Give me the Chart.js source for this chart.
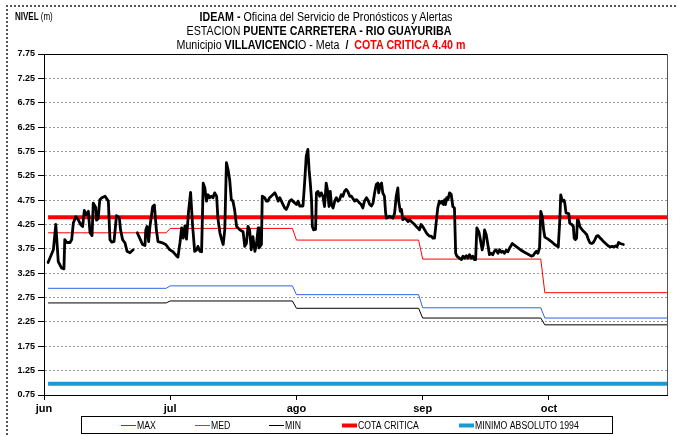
<!DOCTYPE html>
<html>
<head>
<meta charset="utf-8">
<script src="https://cdn.jsdelivr.net/npm/chart.js@4.4.0/dist/chart.umd.min.js"></script>
<style>
  html, body { margin: 0; padding: 0; background: #fff; }
  #wrap { position: relative; width: 678px; height: 436px; overflow: hidden; }
  #c { position: absolute; left: 0; top: 0; }
  .frame { position: absolute; left: 6px; top: 5px; width: 700px; height: 460px;
           border-top: 2px dotted #555; border-left: 2px dotted #555; }
  .t { position: absolute; white-space: nowrap; color: #000;
       font-family: "Liberation Sans Narrow", "Arial Narrow", "Liberation Sans", Arial, sans-serif;
       font-size: 12px; line-height: 14px; transform: translateX(-50%) scaleX(0.89); }
  .t b { font-weight: bold; }
  .red { color: #ff0000; font-weight: bold; }
  .unit { position: absolute; left: 15px; top: 11px; white-space: nowrap;
          font-family: "Liberation Sans Narrow", "Arial Narrow", "Liberation Sans", Arial, sans-serif;
          font-size: 10px; line-height: 12px; transform-origin: 0 50%; transform: scaleX(0.8); }
</style>
</head>
<body>
<div id="wrap">
  <canvas id="c" width="678" height="436"></canvas>
  <div class="frame"></div>
  <div class="unit"><b>NIVEL</b> (m)</div>
  <div class="t" style="left:326px; top:10px;"><b>IDEAM -</b> Oficina del Servicio de Pronósticos y Alertas</div>
  <div class="t" style="left:319px; top:24px;">ESTACION <b>PUENTE CARRETERA - RIO GUAYURIBA</b></div>
  <div class="t" style="left:321px; top:38px;">Municipio <b>VILLAVICENCI</b>O - Meta &nbsp;<b>/</b>&nbsp; <span class="red">COTA CRITICA 4.40 m</span></div>
</div>
<script>
// Month ticks on the day axis (day 0 = 1 June)
const monthTickDays = [-1, 30, 61, 92, 123];
const monthLabels = ['jun', 'jul', 'ago', 'sep', 'oct'];
const levelTicks = [0.75, 1.25, 1.75, 2.25, 2.75, 3.25, 3.75, 4.25, 4.75, 5.25, 5.75, 6.25, 6.75, 7.25, 7.75];

// Monthly reference levels (m)
const monthFirstDay = [0, 30, 61, 92, 122];
const monthLastDay = [29, 60, 91, 121, 152];
const maxByMonth = [4.08, 4.17, 3.93, 3.54, 2.85];
const medByMonth = [2.94, 2.99, 2.81, 2.54, 2.33];
const minByMonth = [2.64, 2.68, 2.53, 2.33, 2.19];
const cotaCritica = 4.40;
const minimoAbsoluto1994 = 0.98;
const seriesSpan = [0, 152];

// Observed water level readings (day, m); null marks missing readings
const obsDay = [
  0, 1.3, 1.9, 2.5, 3.3, 3.9, 4.1, 4.6, 5.4, 5.8, 6.2, 6.8, 7.4, 8.0, 8.5, 8.9, 9.3, 9.9, 10.3, 10.8,
  11.1, 11.7, 11.9, 12.3, 12.7, 13.2, 14.0, 14.8, 15.2, 15.6, 16.2, 16.8, 17.5, 17.8, 18.3, 18.9, 19.4, 20.1, 20.9, 21.4,
  21.9, 22.5, 23.2, 23.8, 24.0, 24.3, 24.7, 25.0, 25.7, 26.1, 26.6, 27.0, 27.9, 28.4, 28.9, 29.9, 30.7, 31.5, 31.9, 32.4,
  32.8, 33.2, 33.6, 34.0, 34.5, 35.0, 35.5, 36.0, 36.5, 36.8, 37.3, 37.7, 38.1, 38.5, 38.9, 39.3, 39.7, 40.1, 40.5, 40.9,
  41.4, 41.7, 42.2, 42.6, 43.0, 43.4, 43.8, 44.2, 44.6, 45.0, 45.4, 45.8, 46.3, 47.1, 47.9, 48.3, 48.7, 49.1, 49.5, 49.9,
  50.3, 50.8, 51.2, 51.6, 51.8, 52.4, 52.6, 53.2, 53.6, 54.0, 54.4, 54.8, 55.7, 56.1, 56.5, 56.9, 57.3, 58.1, 58.5, 58.9,
  59.3, 59.8, 60.1, 60.6, 61.0, 61.4, 61.8, 62.6, 63.0, 63.4, 63.8, 64.1, 64.4, 64.7, 64.9, 65.2, 65.7, 65.9, 66.3, 66.7,
  67.1, 67.5, 67.9, 68.3, 68.6, 69.0, 69.3, 69.6, 70.0, 70.4, 70.8, 71.2, 71.6, 72.0, 72.4, 72.8, 73.2, 73.6, 74.1, 74.5,
  74.9, 75.3, 75.7, 76.1, 76.5, 76.9, 77.3, 77.7, 78.2, 78.5, 79.0, 79.4, 79.8, 80.2, 80.6, 81.0, 81.2, 81.6, 81.9, 82.2,
  82.6, 82.9, 83.1, 83.5, 83.9, 84.3, 84.7, 85.1, 85.5, 85.9, 86.1, 86.5, 86.8, 87.1, 87.5, 88.0, 88.4, 88.8, 89.2, 89.6,
  90.0, 90.4, 90.8, 91.2, 91.6, 92.0, 92.5, 92.9, 93.3, 93.7, 94.1, 94.5, 94.9, 95.3, 95.7, 96.1, 96.5, 96.8, 97.1, 97.4,
  97.6, 97.9, 98.2, 98.6, 99.0, 99.4, 99.8, 100.1, 100.4, 101.0, 101.5, 101.9, 102.3, 102.7, 103.1, 103.5, 103.9, 104.3, 104.7, 105.0,
  105.3, 105.8, 106.1, 106.6, 106.9, 107.2, 107.6, 108.0, 108.4, 108.8, 109.2, 109.6, 110.0, 110.5, 110.9, 111.3, 111.7, 112.1, 112.5, 112.9,
  113.3, 114.0, 114.6, 115.4, 116.2, 117.0, 117.9, 118.7, 119.1, 119.5, 119.9, 120.3, 120.7, 121.0, 121.4, 121.7, 122.0, 122.8, 123.6, 124.4,
  125.3, 125.7, 125.9, 126.3, 126.7, 126.9, 127.2, 127.6, 127.9, 128.1, 128.6, 129.0, 129.2, 129.5, 129.8, 130.0, 130.2, 130.6, 131.0, 131.5,
  131.9, 132.3, 132.7, 133.1, 133.5, 133.9, 134.3, 134.7, 135.1, 135.6, 136.0, 136.4, 136.8, 137.2, 137.6, 138.0, 138.5, 138.8, 139.3, 139.7,
  140.1, 140.5, 140.9, 141.3
];
const obsLevel = [
  3.47, 3.73, 4.25, 3.49, 3.36, 3.34, 3.94, 3.88, 3.88, 3.94, 4.28, 4.41, 4.35, 4.25, 4.21, 4.54, 4.45, 4.52, 4.08, 4.02,
  4.69, 4.60, 4.34, 4.37, 4.76, 4.80, 4.83, 4.73, 3.94, 3.89, 3.90, 4.43, 4.39, 4.14, 3.94, 3.87, 3.70, 3.67, 3.73, null,
  4.08, 3.97, 3.84, 3.82, 4.14, 4.21, 3.90, 4.20, 4.62, 4.65, 4.14, 3.90, 3.88, 3.86, 3.84, 3.73, 3.69, 3.61, 3.58, 3.88,
  4.18, 3.97, 4.22, 3.95, 4.52, 4.91, 4.22, 3.70, 3.73, 3.80, 3.70, 3.69, 5.10, 5.00, 4.73, 4.86, 4.80, 4.83, 4.80, 4.90,
  4.83, 4.38, 4.08, 3.95, 3.84, 4.14, 5.52, 5.38, 5.17, 4.76, 4.73, 4.56, 4.21, 4.14, 4.10, 3.80, 3.86, 4.21, 4.14, 3.73,
  4.00, 3.70, 3.86, 4.18, 3.77, 3.84, 4.83, 4.80, 4.73, 4.73, 4.80, 4.83, 4.90, 4.83, 4.73, 4.80, 4.73, 4.59, 4.56, 4.63,
  4.73, 4.76, 4.73, 4.69, 4.66, 4.73, 4.63, 4.63, 5.10, 5.65, 5.79, 5.38, 5.10, 4.76, 4.21, 4.14, 4.15, 4.90, 4.93, 4.83,
  4.90, 4.83, 4.62, 5.10, 4.97, 4.62, 4.93, 4.66, 4.59, 4.73, 4.80, 4.73, 4.76, 4.86, 4.83, 4.93, 4.97, 4.93, 4.83, 4.83,
  4.78, 4.73, 4.76, 4.73, 4.69, 4.66, 4.59, 4.73, 4.80, 4.76, 4.66, 4.63, 4.69, 4.90, 5.07, 5.10, 4.90, 5.07, 5.10, 4.90,
  4.83, 4.49, 4.38, 4.40, 4.42, 4.40, 4.38, 4.48, 4.83, 5.00, 4.73, 4.52, 4.56, 4.35, 4.38, 4.35, 4.31, 4.35, 4.31, 4.28,
  4.25, 4.21, 4.18, 4.14, 4.25, 4.21, 4.14, 4.08, 4.04, 4.01, 4.01, 3.97, 3.97, 4.28, 4.59, 4.73, 4.69, 4.73, 4.66, 4.76,
  4.66, 4.80, 4.76, 4.90, 4.87, 4.62, 4.59, 3.66, 3.60, 3.56, 3.53, 3.60, 3.56, 3.61, 3.56, 3.63, 3.56, 3.60, 3.53, 3.53,
  4.18, 4.10, 3.97, 3.73, 3.84, 4.14, 4.04, 3.84, 3.63, 3.66, 3.63, 3.70, 3.73, 3.66, 3.73, 3.68, 3.70, 3.66, 3.72, 3.69,
  3.76, 3.86, 3.82, 3.77, 3.72, 3.68, 3.64, 3.60, 3.61, 3.66, 3.70, 3.66, 3.77, 4.52, 4.40, 4.14, 3.99, 3.95, 3.90, 3.84,
  3.79, 4.38, 4.86, 4.73, 4.75, 4.69, 4.49, 4.48, 4.47, 4.28, 4.25, 4.21, 3.97, 3.94, 3.97, 4.35, 4.34, 4.21, 4.16, 4.11,
  4.08, 4.04, 3.94, 3.87, 3.86, 3.88, 3.94, 4.01, 4.02, 3.97, 3.94, 3.90, 3.87, 3.84, 3.81, 3.79, 3.80, 3.79, 3.81, 3.79,
  3.88, 3.86, 3.85, 3.84
];

const FONT = "'Liberation Sans', Arial, sans-serif";
const NARROW = "'Liberation Sans Narrow', 'Arial Narrow', 'Liberation Sans', Arial, sans-serif";

function monthSteps(values) {
  const pts = [];
  values.forEach((v, i) => {
    pts.push({ x: monthFirstDay[i], y: v });
    pts.push({ x: monthLastDay[i], y: v });
  });
  return pts;
}
function flat(v) {
  return seriesSpan.map(d => ({ x: d, y: v }));
}
const observed = obsDay.map((d, i) => ({ x: d, y: obsLevel[i] }));

// Plot frame: top and right edges of the plotting area
const framePlugin = {
  id: 'frame',
  beforeDatasetsDraw(chart) {
    const { ctx, chartArea: a } = chart;
    ctx.save();
    ctx.lineWidth = 1;
    ctx.strokeStyle = '#000';
    ctx.beginPath();
    ctx.moveTo(a.left, Math.round(a.top) + 0.5);
    ctx.lineTo(a.right, Math.round(a.top) + 0.5);
    ctx.stroke();
    ctx.strokeStyle = '#555';
    ctx.beginPath();
    ctx.moveTo(Math.round(a.right) + 0.5, a.top);
    ctx.lineTo(Math.round(a.right) + 0.5, a.bottom);
    ctx.stroke();
    ctx.restore();
  }
};

// Boxed legend row under the axis
const boxLegendPlugin = {
  id: 'boxLegend',
  afterDraw(chart) {
    const { ctx } = chart;
    const items = chart.data.datasets.filter(ds => !ds.hideInLegend);
    const slots = [121, 195, 269, 342, 459];
    ctx.save();
    ctx.strokeStyle = '#000';
    ctx.lineWidth = 1;
    ctx.strokeRect(81.5, 416.5, 531, 17);
    ctx.font = '10px ' + NARROW;
    ctx.textBaseline = 'middle';
    ctx.fillStyle = '#000';
    items.forEach((ds, i) => {
      const x = slots[i];
      ctx.strokeStyle = ds.borderColor;
      ctx.lineWidth = ds.borderWidth;
      ctx.beginPath();
      ctx.moveTo(x, 425.5);
      ctx.lineTo(x + 15, 425.5);
      ctx.stroke();
      ctx.save();
      ctx.translate(x + 16, 426);
      ctx.scale(0.87, 1);
      ctx.fillText(ds.label, 0, 0);
      ctx.restore();
    });
    ctx.restore();
  }
};

new Chart(document.getElementById('c'), {
  type: 'line',
  data: {
    datasets: [
      { label: 'NIVEL', data: observed, borderColor: '#000', borderWidth: 2.8, order: 0,
        hideInLegend: true, spanGaps: false, borderJoinStyle: 'round', borderCapStyle: 'round' },
      { label: 'MAX', data: monthSteps(maxByMonth), borderColor: '#ff0000', borderWidth: 1, order: 3 },
      { label: 'MED', data: monthSteps(medByMonth), borderColor: '#2f62e8', borderWidth: 1, order: 3 },
      { label: 'MIN', data: monthSteps(minByMonth), borderColor: '#000', borderWidth: 1, order: 3 },
      { label: 'COTA CRITICA', data: flat(cotaCritica), borderColor: '#ff0000', borderWidth: 4, order: 2 },
      { label: 'MINIMO ABSOLUTO 1994', data: flat(minimoAbsoluto1994), borderColor: '#1a9ad4', borderWidth: 4, order: 2 }
    ]
  },
  options: {
    responsive: false,
    animation: false,
    devicePixelRatio: 1,
    parsing: false,
    normalized: true,
    elements: { point: { radius: 0, hoverRadius: 0 }, line: { tension: 0, fill: false } },
    layout: { padding: { left: 0, top: 54, right: 11, bottom: 0 } },
    plugins: { legend: { display: false }, title: { display: false }, tooltip: { enabled: false } },
    events: [],
    scales: {
      x: {
        type: 'linear',
        min: -1,
        max: 152,
        afterBuildTicks(scale) { scale.ticks = monthTickDays.map(v => ({ value: v })); },
        afterFit(scale) { scale.height = 41; },
        ticks: {
          autoSkip: false, maxRotation: 0, padding: 2,
          color: '#000', font: { family: FONT, size: 11, weight: 'bold' },
          callback: (v, i) => monthLabels[i]
        },
        grid: { drawOnChartArea: false, drawTicks: true, tickLength: 5, tickColor: '#000' },
        border: { color: '#000', width: 1 }
      },
      y: {
        type: 'linear',
        min: 0.75,
        max: 7.75,
        afterBuildTicks(scale) { scale.ticks = levelTicks.map(v => ({ value: v })); },
        afterFit(scale) { scale.width = 44; },
        ticks: {
          autoSkip: false, padding: 3, color: '#000',
          font: { family: FONT, size: 9, weight: 'bold' },
          callback: v => v.toFixed(2)
        },
        grid: {
          color: c => (c.tick && (c.tick.value === 0.75 || c.tick.value === 7.75)) ? 'rgba(0,0,0,0)' : '#9c9c9c',
          lineWidth: 1, tickLength: 6, tickColor: '#000'
        },
        border: { color: '#000', width: 1, dash: [2, 2] }
      }
    }
  },
  plugins: [framePlugin, boxLegendPlugin]
});
</script>
</body>
</html>
